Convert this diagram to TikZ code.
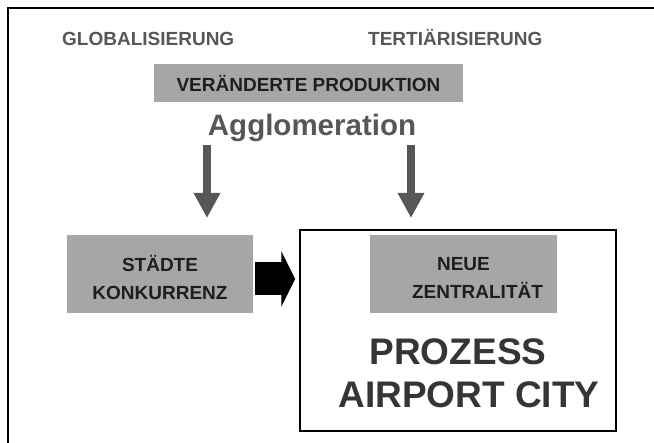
\documentclass[tikz,border=0pt]{standalone}
\usepackage{fontspec}
\setmainfont{Liberation Sans}
\usetikzlibrary{arrows.meta}
\definecolor{boxgrey}{HTML}{A6A6A6}
\definecolor{txtgrey}{HTML}{575757}
\definecolor{darktxt}{HTML}{1E1E1E}
\tikzset{
 greybox/.style={fill=boxgrey, inner sep=0, align=center, text=darktxt, text height=52pt, text depth=0pt, font=\fontsize{19}{28}\selectfont\bfseries},
 headtxt/.style={anchor=base west, inner sep=0, text=txtgrey, font=\fontsize{19}{20}\selectfont\bfseries},
 downarrow/.style={txtgrey, line width=8pt, -{Triangle[length=25pt,width=25pt]}},
}

\begin{document}
\begin{tikzpicture}[x=1pt,y=-1pt]
\useasboundingbox (0,0) rectangle (654,443);
\draw[black, line width=2pt] (8,443)--(8,8)--(654,8);

% top row
\node[headtxt] (glob) at (62,46) {GLOBALISIERUNG};
\node[headtxt] (tert) at (368,46) {TERTIÄRISIERUNG};
\node[greybox, text height=18pt, minimum width=309pt, minimum height=38pt] (prod) at (308.5,83) {VERÄNDERTE PRODUKTION};
\node[anchor=base, inner sep=0, text=txtgrey, font=\fontsize{29.5}{32}\selectfont\bfseries] (aggl) at (312,136) {Agglomeration};

% arrows down
\coordinate (s1) at (207,145);
\coordinate (e1) at (207,218);
\coordinate (s2) at (411,145);
\coordinate (e2) at (411,218);
\draw[downarrow] (s1) -- (e1);
\draw[downarrow] (s2) -- (e2);

% lower row
\node[greybox, minimum width=186pt, minimum height=78pt] (staedte) at (160,274) {STÄDTE\\KONKURRENZ};
\node[draw=black, line width=1.5pt, inner sep=0, minimum width=316pt, minimum height=201pt] (city) at (458,330.5) {};
\node[greybox, text height=50pt, minimum width=187pt, minimum height=78pt] (neue) at (463.5,274) {NEUE\\\hspace*{28pt}ZENTRALITÄT};
\node[anchor=base, inner sep=0, align=center, text=darktxt!90!white, font=\fontsize{37}{43}\selectfont\bfseries] (prozess) at (458,408) {PROZESS\\\hspace*{22pt}AIRPORT CITY};
\draw[black, line width=33pt, -{Triangle[length=14pt,width=55pt]}] ([xshift=2pt]staedte.east |- 0,279) -- ([xshift=-4pt]city.west |- 0,279);
\end{tikzpicture}
\end{document}
